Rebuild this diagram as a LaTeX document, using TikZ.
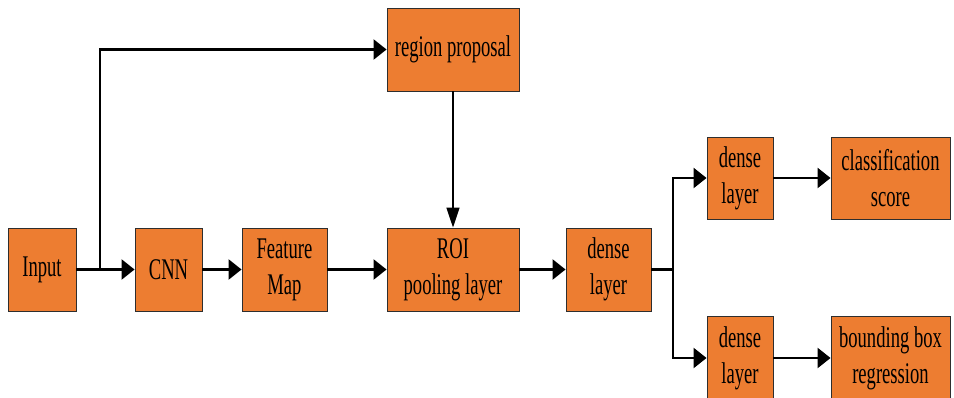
\documentclass[tikz,border=0pt]{standalone}
\usepackage{fontspec}
\setmainfont{Liberation Serif}[FakeStretch=0.62]
\usetikzlibrary{arrows.meta}

\definecolor{boxorange}{HTML}{ED7D31}
\definecolor{boxedge}{HTML}{2E2E2E}

\tikzset{
  block/.style={draw=boxedge, line width=0.9pt, fill=boxorange, inner sep=0pt,
    align=center, minimum height=83pt, font=\fontsize{30}{36}\selectfont},
  hline/.style={draw=black, line width=2.4pt},
  vline/.style={draw=black, line width=1.6pt},
  harrow/.style={hline, -{Triangle[length=13pt,width=20pt]}},
  varrow/.style={vline, -{Triangle[length=20pt,width=13pt]}},
}

\begin{document}
\begin{tikzpicture}[x=1pt, y=-1pt]
  \useasboundingbox (0,0) rectangle (954,398);
  \clip (0,0) rectangle (954,398);

  % main pipeline
  \node[block, minimum width=68pt]  (in)   at (42,269.5)    {Input};
  \node[block, minimum width=67pt]  (cnn)  at (168.5,269.5) {CNN};
  \node[block, minimum width=85pt]  (fm)   at (284.5,269.5) {Feature\\Map};
  \node[block, minimum width=132pt] (rp)   at (453,49.5)    {region proposal};
  \node[block, minimum width=132pt] (roi)  at (453,269.5)   {ROI\\pooling layer};
  \node[block, minimum width=85pt]  (dm)   at (608.5,269.5) {dense\\layer};

  % two heads
  \node[block, minimum width=66pt, minimum height=82pt]  (dt)  at (740,178)   {dense\\layer};
  \node[block, minimum width=119pt, minimum height=82pt] (cls) at (890.5,178) {classification\\score};
  \node[block, minimum width=66pt, minimum height=84pt]  (db)  at (740,358)   {dense\\layer};
  \node[block, minimum width=119pt, minimum height=84pt] (bb)  at (890.5,358) {bounding box\\regression};

  % branch points
  \coordinate (s1) at (100,269.5);
  \coordinate (s2) at (673,269.5);

  % input to CNN and to region proposal
  \draw[hline] (in.east) -- (s1);
  \draw[harrow] (s1) -- (cnn.west);
  \draw[vline] (s1) -- (s1 |- rp.west);
  \draw[harrow] ([xshift=-0.8pt]s1 |- rp.west) -- (rp.west);

  \draw[harrow] (cnn.east) -- (fm.west);
  \draw[harrow] (fm.east) -- (roi.west);
  \draw[varrow] (rp.south) -- (roi.north);
  \draw[harrow] (roi.east) -- (dm.west);

  % split into the two heads
  \draw[hline] (dm.east) -- (s2);
  \draw[vline] (s2 |- dt.west) -- (s2 |- db.west);
  \draw[harrow] ([xshift=-0.8pt]s2 |- dt.west) -- (dt.west);
  \draw[harrow] ([xshift=-0.8pt]s2 |- db.west) -- (db.west);

  \draw[harrow] (dt.east) -- (cls.west);
  \draw[harrow] (db.east) -- (bb.west);
\end{tikzpicture}
\end{document}
